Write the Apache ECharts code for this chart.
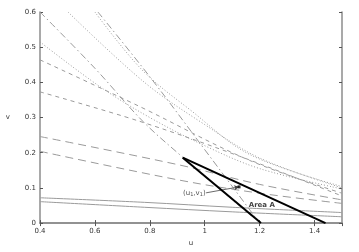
<!DOCTYPE html>
<html><head><meta charset="utf-8">
<script src="https://cdn.jsdelivr.net/npm/echarts@6/dist/echarts.min.js"></script>
<style>html,body{margin:0;padding:0;background:#fff}#c{width:359px;height:252px}</style>
</head><body><div id="c"></div>
<script>
// ---- data ----
var xTickLabels = ['0.4','0.6','0.8','1','1.2','1.4'];
var yTickLabels = ['0','0.1','0.2','0.3','0.4','0.5','0.6'];
var solid1 = [[0.4,0.072],[0.78,0.059],[1.1,0.045],[1.5,0.030]];
var solid2 = [[0.4,0.061],[0.78,0.045],[1.1,0.032],[1.5,0.018]];
var longDash1 = [[0.4,0.246],[0.909,0.165],[1.2,0.11],[1.5,0.066]];
var longDash2 = [[0.4,0.204],[0.909,0.122],[1.2,0.085],[1.5,0.056]];
var medDash1 = [[0.4,0.464],[0.764,0.331],[1.164,0.178],[1.5,0.085]];
var medDash2 = [[0.4,0.373],[0.764,0.289],[1.127,0.190],[1.5,0.077]];
var dotted1 = [[0.4,0.515],[0.618,0.388],[0.8,0.30],[1.0,0.22],[1.2,0.155],[1.5,0.097]];
var dotted2 = [[0.502,0.6],[0.782,0.399],[1.0,0.28],[1.2,0.185],[1.5,0.100]];
var dotted3 = [[0.6,0.6],[0.771,0.436],[0.95,0.32],[1.164,0.195],[1.5,0.104]];
var dashDot1 = [[0.4,0.6],[0.6,0.44],[0.775,0.289],[0.92,0.187],[1.05,0.10],[1.17,0.02]];
var dashDot2 = [[0.611,0.6],[0.8,0.416],[1.018,0.19],[1.2,0.0]];
var boundary1 = [[0.92,0.186],[1.205,0]];
var boundary2 = [[0.92,0.186],[1.44,0]];
var pointU1V1 = [[1.125,0.103]];
var arrowFrom = [1.005,0.086];
var labelU1V1Pos = [0.962,0.085];
var areaALabelPos = [1.208,0.052];

var grayC = '#9a9a9a';
function curve(data, type, color, width){
  return {type:'line', data:data, showSymbol:false, symbol:'none', smooth:0.35, silent:true,
    lineStyle:{color:color||grayC, width:width||1, type:type}, z:2};
}
var chart = echarts.init(document.getElementById('c'), null, {renderer:'canvas'});
var axisCommon = {
  axisLine:{show:true, lineStyle:{color:'#8c8c8c', width:1.5}},
  axisTick:{show:true, inside:true, length:3, lineStyle:{color:'#555', width:1}},
  splitLine:{show:false}
};
var labelStyle = {color:'#333', fontSize:7, fontFamily:'DejaVu Sans'};
chart.setOption({
  animation:false,
  grid:{left:40, right:17, top:12, bottom:28},
  xAxis:[
    Object.assign({type:'value', min:0.4, max:1.5, interval:0.2, position:'bottom',
      name:'u', nameLocation:'middle', nameGap:16, nameTextStyle:labelStyle,
      axisLabel:Object.assign({margin:5, showMaxLabel:false, formatter:function(v){
        var i = Math.round((v-0.4)/0.2); var ok = Math.abs(v-0.4-i*0.2)<1e-6;
        return ok && xTickLabels[i]!==undefined ? xTickLabels[i] : '';}}, labelStyle)}, axisCommon),
    Object.assign({type:'value', min:0.4, max:1.5, interval:0.2, position:'top',
      axisLabel:{show:false}}, axisCommon)
  ],
  yAxis:[
    Object.assign({type:'value', min:0, max:0.6, interval:0.1, position:'left',
      name:'v', nameLocation:'middle', nameGap:30, nameRotate:0, nameTextStyle:labelStyle,
      axisLabel:Object.assign({margin:4, formatter:function(v){
        var i = Math.round(v/0.1); return yTickLabels[i]!==undefined ? yTickLabels[i] : '';}}, labelStyle)}, axisCommon),
    Object.assign({type:'value', min:0, max:0.6, interval:0.1, position:'right',
      axisLabel:{show:false}}, axisCommon)
  ],
  series:[
    curve(solid1,'solid'), curve(solid2,'solid'),
    curve(longDash1,[8,5]), curve(longDash2,[8,5]),
    curve(medDash1,[4,4]), curve(medDash2,[4,4]),
    curve(dotted1,[1,2]), curve(dotted2,[1,2]), curve(dotted3,[1,2]),
    curve(dashDot1,[7,3,1.5,3]), curve(dashDot2,[7,3,1.5,3]),
    {type:'line', data:boundary1, symbol:'none', lineStyle:{color:'#000', width:2}, z:5, silent:true},
    {type:'line', data:boundary2, symbol:'none', lineStyle:{color:'#000', width:2}, z:5, silent:true,
      markLine:{silent:true, symbol:['none','arrow'], symbolSize:[4,5],
        lineStyle:{color:'#444', width:0.8, type:'solid'}, label:{show:false},
        data:[[{coord:arrowFrom},{coord:pointU1V1[0]}]]}},
    {type:'scatter', data:pointU1V1, symbol:'rect', symbolSize:3, itemStyle:{color:'#000'}, z:6, silent:true},
    {type:'scatter', data:[labelU1V1Pos], symbolSize:0, silent:true, z:6,
      label:{show:true, position:'inside', formatter:'(u{s|1},v{s|1})', color:'#222', fontSize:7, fontFamily:'DejaVu Sans',
        rich:{s:{fontSize:5, verticalAlign:'bottom', padding:[4,0,0,0], color:'#222', fontFamily:'DejaVu Sans'}}}},
    {type:'scatter', data:[areaALabelPos], symbolSize:0, silent:true, z:6,
      label:{show:true, position:'inside', formatter:'Area A', color:'#111', fontSize:7, fontWeight:'bold', fontFamily:'DejaVu Sans'}}
  ]
});
</script>
</body></html>
